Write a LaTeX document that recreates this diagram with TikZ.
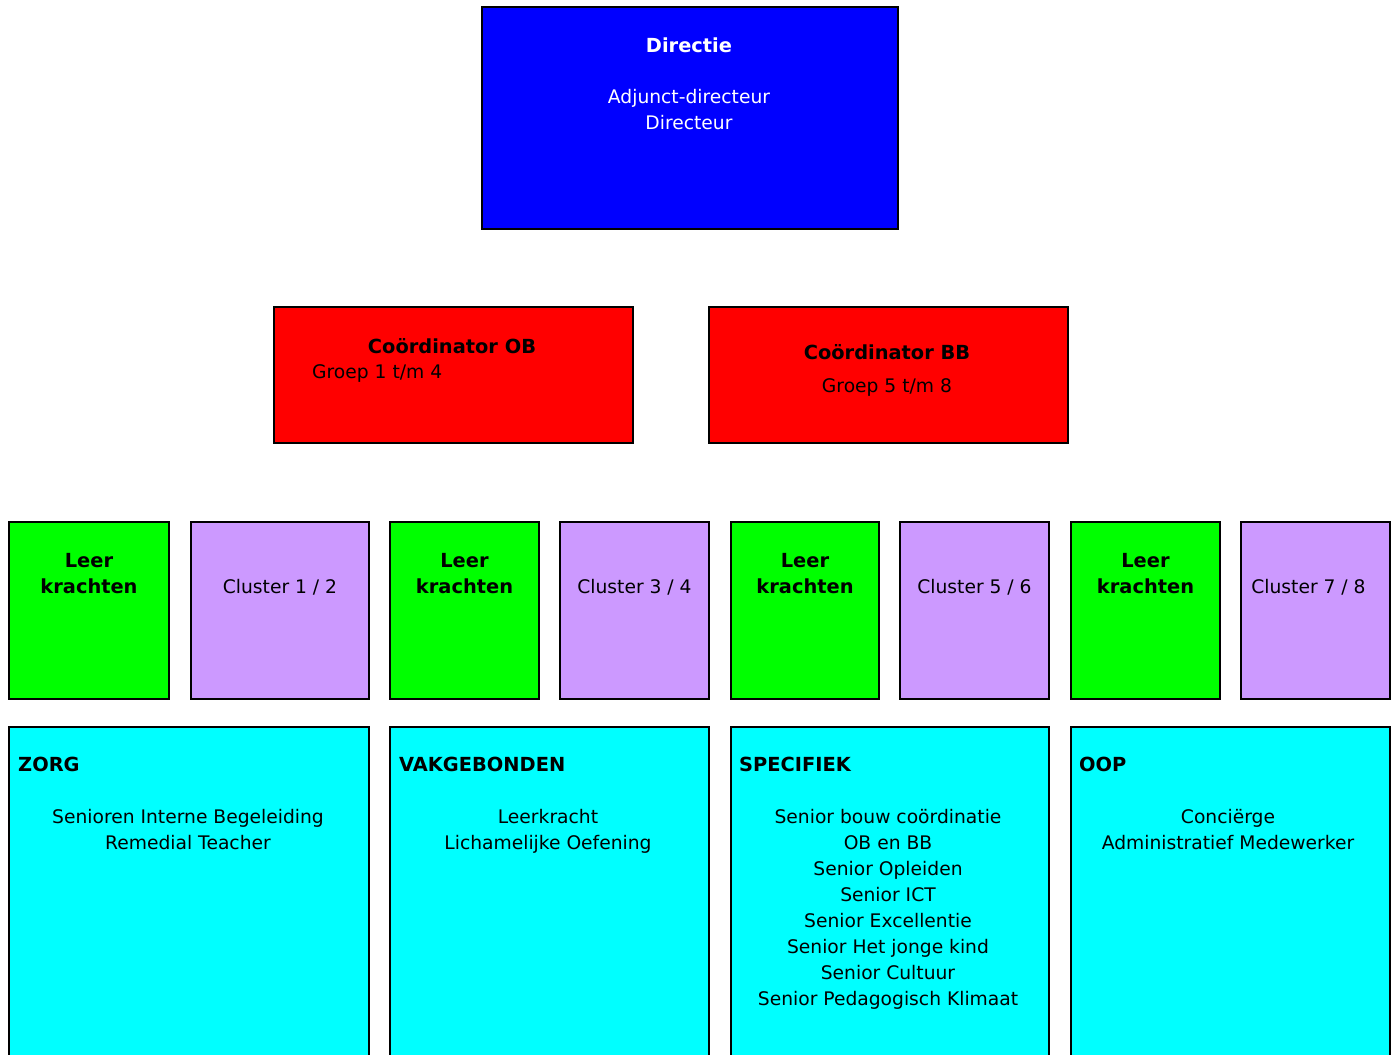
\documentclass[tikz,border=0pt]{standalone}
\usepackage{fontspec}
\setmainfont{DejaVu Sans}
\usepackage{tikz}
\definecolor{dirblue}{HTML}{0000FF}
\definecolor{coored}{HTML}{FF0000}
\definecolor{leergreen}{HTML}{00FF00}
\definecolor{clusterlila}{HTML}{CC99FF}
\definecolor{taakcyan}{HTML}{00FFFF}

\begin{document}
\begin{tikzpicture}[x=1pt,y=-1pt,
    box/.style={draw=black,line width=2pt,anchor=north west,inner sep=0pt},
    txt/.style={font=\fontsize{18.7}{26}\selectfont,align=center,inner sep=0pt,anchor=north},
    hd/.style={txt,font=\fontsize{19.4}{26}\selectfont\bfseries}]
  \useasboundingbox (0,0) rectangle (1393,1055);
  \clip (0,0) rectangle (1393,1055);
  % directie
  \node[box,fill=dirblue,minimum width=416,minimum height=222] (dir) at (481,6) {};
  \node[hd,text=white] (dirtitle) at (689,38) {Directie};
  \node[txt,text=white] (dirstaff) at (689,89) {Adjunct-directeur\\Directeur};
  % coordinatoren
  \node[box,fill=coored,minimum width=359,minimum height=136] (coob) at (273,306) {};
  \node[hd] (coobtitle) at (452,338) {Coördinator OB};
  \node[txt,anchor=north west] (coobgroep) at (312,364) {Groep 1 t/m 4};
  \node[box,fill=coored,minimum width=359,minimum height=136] (cobb) at (708,306) {};
  \node[hd] (cobbtitle) at (887,344) {Coördinator BB};
  \node[txt] (cobbgroep) at (887,378) {Groep 5 t/m 8};
  % leerkrachten en clusters
  \foreach \x/\w/\n in {8/160/1,389/149/2,730/148/3,1070/149/4}{
    \node[box,fill=leergreen,minimum width=\w,minimum height=177] (lk\n) at (\x,521) {};
    \node[hd] (lktext\n) at ([yshift=-32pt]lk\n.north) {Leer\\krachten};
  }
  \foreach \x/\w/\n/\a/\b/\s in {190/178/1/1/2/0,559/149/2/3/4/0,899/149/3/5/6/0,1240/149/4/7/8/-7}{
    \node[box,fill=clusterlila,minimum width=\w,minimum height=177] (cl\n) at (\x,521) {};
    \node[txt] (cltext\n) at ([xshift=\s pt,yshift=-58pt]cl\n.north) {Cluster \a\ / \b};
  }
  % taken
  \node[box,fill=taakcyan,minimum width=360,minimum height=340] (zorg) at (8,726) {};
  \node[box,fill=taakcyan,minimum width=319,minimum height=340] (vak) at (389,726) {};
  \node[box,fill=taakcyan,minimum width=318,minimum height=340] (spec) at (730,726) {};
  \node[box,fill=taakcyan,minimum width=319,minimum height=340] (oop) at (1070,726) {};
  \node[hd,anchor=north west] (zorgtitle) at (18,757) {ZORG};
  \node[hd,anchor=north west] (vaktitle) at (399,757) {VAKGEBONDEN};
  \node[hd,anchor=north west] (spectitle) at (739,757) {SPECIFIEK};
  \node[hd,anchor=north west] (ooptitle) at (1079,757) {OOP};
  \node[txt] (zorgtext) at (188,809) {Senioren Interne Begeleiding\\Remedial Teacher};
  \node[txt] (vaktext) at (548,809) {Leerkracht\\Lichamelijke Oefening};
  \node[txt] (spectext) at (888,809) {Senior bouw coördinatie\\OB en BB\\Senior Opleiden\\Senior ICT\\Senior Excellentie\\Senior Het jonge kind\\Senior Cultuur\\Senior Pedagogisch Klimaat};
  \node[txt] (ooptext) at (1228,809) {Conciërge\\Administratief Medewerker};
\end{tikzpicture}
\end{document}
